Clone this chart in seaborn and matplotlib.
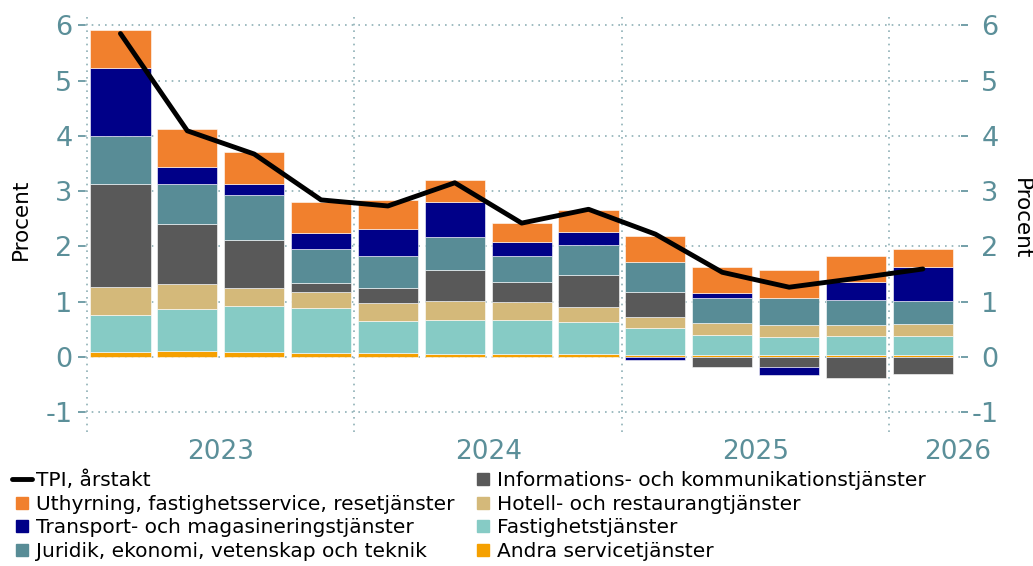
import numpy as np
import pandas as pd
import seaborn as sns
import matplotlib.pyplot as plt
from matplotlib.lines import Line2D

# Quarters 2023K1 .. 2026K1, contributions in percentage points
quarters = ["2023K1", "2023K2", "2023K3", "2023K4",
            "2024K1", "2024K2", "2024K3", "2024K4",
            "2025K1", "2025K2", "2025K3", "2025K4",
            "2026K1"]
year_labels = ["2023", "2024", "2025", "2026"]

andra = [0.09, 0.10, 0.08, 0.07, 0.07, 0.05, 0.05, 0.05, 0.03, 0.04, 0.04, 0.04, 0.04]
fastighet = [0.66, 0.77, 0.84, 0.82, 0.57, 0.62, 0.61, 0.58, 0.50, 0.35, 0.32, 0.33, 0.34]
hotell = [0.51, 0.45, 0.33, 0.28, 0.33, 0.34, 0.33, 0.27, 0.20, 0.22, 0.22, 0.21, 0.21]
info = [1.87, 1.08, 0.87, 0.17, 0.27, 0.57, 0.37, 0.59, 0.45, -0.18, -0.18, -0.38, -0.31]
juridik = [0.87, 0.73, 0.81, 0.61, 0.59, 0.59, 0.47, 0.53, 0.54, 0.46, 0.48, 0.45, 0.42]
transport = [1.23, 0.30, 0.19, 0.30, 0.48, 0.63, 0.24, 0.24, -0.05, 0.09, -0.15, 0.33, 0.61]
uthyrning = [0.68, 0.70, 0.58, 0.55, 0.52, 0.40, 0.35, 0.40, 0.47, 0.47, 0.52, 0.47, 0.33]
tpi = [5.85, 4.09, 3.67, 2.84, 2.73, 3.15, 2.42, 2.67, 2.22, 1.53, 1.26, 1.42, 1.59]

# bottom -> top stacking order
series = [
    ("Andra servicetjänster", andra, "#F5A000"),
    ("Fastighetstjänster", fastighet, "#86CBC5"),
    ("Hotell- och restaurangtjänster", hotell, "#D4B97A"),
    ("Informations- och kommunikationstjänster", info, "#595959"),
    ("Juridik, ekonomi, vetenskap och teknik", juridik, "#588C96"),
    ("Transport- och magasineringstjänster", transport, "#000088"),
    ("Uthyrning, fastighetsservice, resetjänster", uthyrning, "#F1802D"),
]

teal = "#5B8F99"
grid_col = "#8FB0B6"

sns.set_style("white")
plt.rcParams['font.family'] = ['DejaVu Sans']
plt.rcParams['axes.unicode_minus'] = False

fig = plt.figure(figsize=(10.33, 5.66), dpi=100)
ax = fig.add_axes([85 / 1033, 1 - 432 / 566, (961 - 85) / 1033, (432 - 12) / 566])

x = np.arange(len(quarters))
pos_base = np.zeros(len(x))
neg_base = np.zeros(len(x))
for name, vals, col in series:
    v = np.array(vals)
    base = np.where(v >= 0, pos_base, neg_base)
    ax.bar(x, v, bottom=base, width=0.9, color=col, edgecolor="white",
           linewidth=0.4, zorder=3)
    pos_base += np.clip(v, 0, None)
    neg_base += np.clip(v, None, 0)

tpi_df = pd.DataFrame({"x": x, "TPI": tpi})
sns.lineplot(data=tpi_df, x="x", y="TPI", color="black", lw=3.5, ax=ax,
             zorder=4, legend=False)

# grid and year separators
ax.set_ylim(-1.36, 6.24)
ax.set_xlim(-0.53, 12.57)
ax.set_yticks(range(-1, 7))
ax.yaxis.grid(True, linestyle=(0, (1, 3)), color=grid_col, lw=1.2, zorder=0)
for b in [-0.5, 3.5, 7.5, 11.5]:
    ax.axvline(b, linestyle=(0, (1, 3)), color=grid_col, lw=1.2, zorder=0)
ax.set_axisbelow(True)
for s in ax.spines.values():
    s.set_visible(False)

ax.set_xticks([1.5, 5.5, 9.5, 12.52])
ax.set_xticklabels(year_labels)
ax.tick_params(axis="x", length=0, pad=5, labelsize=19, labelcolor=teal)
ax.tick_params(axis="y", left=True, length=5, width=1.2, color=teal,
               labelcolor=teal, labelsize=19.5, pad=4)
ax.set_xlabel("")
ax.set_ylabel("")

# right axis copy
ax2 = ax.twinx()
ax2.set_ylim(ax.get_ylim())
ax2.set_yticks(range(-1, 7))
ax2.tick_params(axis="y", right=True, length=5, width=1.2, color=teal,
                labelcolor=teal, labelsize=19.5, pad=22)
for t in ax2.yaxis.get_major_ticks():
    t.label2.set_horizontalalignment("right")
for s in ax2.spines.values():
    s.set_visible(False)

fig.text(21 / 1033, 1 - 219 / 566, "Procent", rotation=90, ha="center",
         va="center", fontsize=15.5, color="black")
fig.text(1021 / 1033, 1 - 219 / 566, "Procent", rotation=270, ha="center",
         va="center", fontsize=15.5, color="black")

# legend, column-wise order
def sq(c):
    return Line2D([], [], marker="s", color=c, linestyle="", markersize=8)

handles = [Line2D([], [], color="black", lw=3.5),
           sq("#F1802D"), sq("#000088"), sq("#588C96"),
           sq("#595959"), sq("#D4B97A"), sq("#86CBC5"), sq("#F5A000")]
labels = ["TPI, årstakt",
          "Uthyrning, fastighetsservice, resetjänster",
          "Transport- och magasineringstjänster",
          "Juridik, ekonomi, vetenskap och teknik",
          "Informations- och kommunikationstjänster",
          "Hotell- och restaurangtjänster",
          "Fastighetstjänster",
          "Andra servicetjänster"]
fig.legend(handles, labels, loc="upper left",
           bbox_to_anchor=(12 / 1033, 1 - 471 / 566), ncol=2, frameon=False,
           borderaxespad=0, borderpad=0, handlelength=1.0, handletextpad=0.2,
           columnspacing=0.9, labelspacing=0.22, fontsize=14.5,
           labelcolor="black")

fig.savefig("out.png", dpi=100)
